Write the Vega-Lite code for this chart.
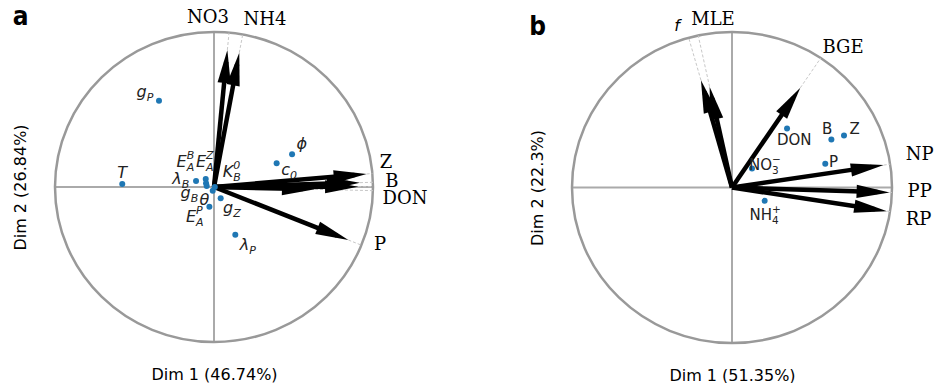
{
  "$schema": "https://vega.github.io/schema/vega-lite/v6.json",
  "background": "white",
  "padding": {"left": 12, "top": 4, "right": 0, "bottom": 0},
  "config": {
    "view": {"stroke": null},
    "axis": {"domain": false, "ticks": false, "labels": false, "grid": false, "titleFont": "DejaVu Sans", "titleFontSize": 16, "titleFontWeight": "normal", "titleColor": "#000"},
    "axisX": {"titlePadding": 24},
    "axisY": {"titlePadding": 27}
  },
  "datasets": {
    "arrows": [
      {"panel": "a", "name": "NO3", "x": 0.084, "y": 0.884, "lx": -0.038, "ly": 1.09},
      {"panel": "a", "name": "NH4", "x": 0.159, "y": 0.866, "lx": 0.321, "ly": 1.077},
      {"panel": "a", "name": "Z", "x": 0.96, "y": 0.084, "lx": 1.082, "ly": 0.155},
      {"panel": "a", "name": "B", "x": 0.918, "y": 0.028, "lx": 1.119, "ly": 0.03},
      {"panel": "a", "name": "DON", "x": 0.906, "y": 0.002, "lx": 1.201, "ly": -0.075},
      {"panel": "a", "name": "", "x": 0.635, "y": -0.015, "lx": null, "ly": null},
      {"panel": "a", "name": "P", "x": 0.845, "y": -0.342, "lx": 1.044, "ly": -0.374},
      {"panel": "b", "name": "f", "x": -0.194, "y": 0.69, "lx": -0.344, "ly": 1.04},
      {"panel": "b", "name": "MLE", "x": -0.14, "y": 0.648, "lx": -0.119, "ly": 1.077},
      {"panel": "b", "name": "BGE", "x": 0.427, "y": 0.641, "lx": 0.694, "ly": 0.894},
      {"panel": "b", "name": "NP", "x": 0.948, "y": 0.144, "lx": 1.173, "ly": 0.208},
      {"panel": "b", "name": "PP", "x": 0.985, "y": -0.032, "lx": 1.173, "ly": -0.032},
      {"panel": "b", "name": "RP", "x": 0.969, "y": -0.152, "lx": 1.166, "ly": -0.21}
    ],
    "points": [
      {"panel": "a", "base": "g", "sub": "P", "sup": "", "x": -0.346, "y": 0.557, "lx": -0.423, "ly": 0.615},
      {"panel": "a", "base": "T", "sub": "", "sup": "", "x": -0.577, "y": 0.019, "lx": -0.577, "ly": 0.088},
      {"panel": "a", "base": "ϕ", "sub": "", "sup": "", "x": 0.491, "y": 0.211, "lx": 0.552, "ly": 0.277},
      {"panel": "a", "base": "c", "sub": "0", "sup": "", "x": 0.394, "y": 0.153, "lx": 0.478, "ly": 0.11},
      {"panel": "a", "base": "λ", "sub": "B", "sup": "", "x": -0.113, "y": 0.039, "lx": -0.203, "ly": 0.052},
      {"panel": "a", "base": "E", "sub": "A", "sup": "B", "x": -0.052, "y": 0.052, "lx": -0.172, "ly": 0.163},
      {"panel": "a", "base": "E", "sub": "A", "sup": "Z", "x": -0.05, "y": 0.024, "lx": -0.05, "ly": 0.163},
      {"panel": "a", "base": "g", "sub": "B", "sup": "", "x": -0.046, "y": 0.006, "lx": -0.147, "ly": -0.041},
      {"panel": "a", "base": "θ", "sub": "", "sup": "", "x": -0.008, "y": -0.024, "lx": -0.061, "ly": -0.084},
      {"panel": "a", "base": "K", "sub": "B", "sup": "0", "x": 0.005, "y": 0.0, "lx": 0.121, "ly": 0.099},
      {"panel": "a", "base": "E", "sub": "A", "sup": "P", "x": -0.029, "y": -0.127, "lx": -0.113, "ly": -0.192},
      {"panel": "a", "base": "g", "sub": "Z", "sup": "", "x": 0.042, "y": -0.073, "lx": 0.121, "ly": -0.134},
      {"panel": "a", "base": "λ", "sub": "P", "sup": "", "x": 0.134, "y": -0.308, "lx": 0.222, "ly": -0.374},
      {"panel": "b", "base": "DON", "sub": "", "sup": "", "x": 0.344, "y": 0.379, "lx": 0.389, "ly": 0.305},
      {"panel": "b", "base": "B", "sub": "", "sup": "", "x": 0.621, "y": 0.309, "lx": 0.594, "ly": 0.376},
      {"panel": "b", "base": "Z", "sub": "", "sup": "", "x": 0.70, "y": 0.334, "lx": 0.766, "ly": 0.376},
      {"panel": "b", "base": "P", "sub": "", "sup": "", "x": 0.583, "y": 0.152, "lx": 0.635, "ly": 0.165},
      {"panel": "b", "base": "NO", "sub": "3", "sup": "−", "x": 0.125, "y": 0.122, "lx": 0.25, "ly": 0.145},
      {"panel": "b", "base": "NH", "sub": "4", "sup": "+", "x": 0.204, "y": -0.086, "lx": 0.25, "ly": -0.174}
    ]
  },
  "spacing": 199,
  "bounds": "flush",
  "hconcat": [
    {
      "width": 318,
      "height": 310,
      "layer": [
        {"data": {"values": [{}]}, "mark": {"type": "rule", "color": "#aaaaaa", "strokeWidth": 2},
         "encoding": {"x": {"datum": 0, "type": "quantitative", "scale": {"domain": [-1, 1], "nice": false, "zero": false}, "title": "Dim 1 (46.74%)"},
                      "y": {"datum": -1, "type": "quantitative", "scale": {"domain": [-1, 1], "nice": false, "zero": false}, "title": "Dim 2 (26.84%)"},
                      "y2": {"datum": 1}}},
        {"data": {"values": [{}]}, "mark": {"type": "rule", "color": "#aaaaaa", "strokeWidth": 2},
         "encoding": {"x": {"datum": -1, "type": "quantitative", "scale": {"domain": [-1, 1], "nice": false, "zero": false}, "title": "Dim 1 (46.74%)"},
                      "x2": {"datum": 1},
                      "y": {"datum": 0, "type": "quantitative", "scale": {"domain": [-1, 1], "nice": false, "zero": false}, "title": "Dim 2 (26.84%)"}}},
        {"data": {"values": [{}]}, "mark": {"type": "point", "shape": "M1,0A1,0.975,0,1,1,-1,0A1,0.975,0,1,1,1,0Z", "size": 101124, "filled": false, "stroke": "#999999", "strokeWidth": 2.5, "opacity": 1},
         "encoding": {"x": {"datum": 0, "type": "quantitative", "scale": {"domain": [-1, 1], "nice": false, "zero": false}, "title": "Dim 1 (46.74%)"},
                      "y": {"datum": 0, "type": "quantitative", "scale": {"domain": [-1, 1], "nice": false, "zero": false}, "title": "Dim 2 (26.84%)"}}},
        {"data": {"name": "arrows"},
         "transform": [{"filter": "datum.panel == 'a'"}, {"calculate": "sqrt(datum.x*datum.x+datum.y*datum.y)", "as": "r"}, {"calculate": "datum.x/datum.r", "as": "cx"}, {"calculate": "datum.y/datum.r", "as": "cy"}],
         "mark": {"type": "rule", "color": "#c8c8c8", "strokeWidth": 1, "strokeDash": [3, 2]},
         "encoding": {"x": {"field": "x", "type": "quantitative", "scale": {"domain": [-1, 1], "nice": false, "zero": false}, "title": "Dim 1 (46.74%)"},
                      "y": {"field": "y", "type": "quantitative", "scale": {"domain": [-1, 1], "nice": false, "zero": false}, "title": "Dim 2 (26.84%)"},
                      "x2": {"field": "cx"}, "y2": {"field": "cy"}}},
        {"data": {"name": "arrows"},
         "transform": [{"filter": "datum.panel == 'a'"}, {"calculate": "sqrt(datum.x*datum.x+datum.y*datum.y)", "as": "r"}, {"calculate": "1-12/(datum.r*157)", "as": "f"}, {"calculate": "datum.x*datum.f", "as": "sx"}, {"calculate": "datum.y*datum.f", "as": "sy"}],
         "mark": {"type": "rule", "color": "black", "strokeWidth": 4.5},
         "encoding": {"x": {"field": "sx", "type": "quantitative", "scale": {"domain": [-1, 1], "nice": false, "zero": false}, "title": "Dim 1 (46.74%)"},
                      "y": {"field": "sy", "type": "quantitative", "scale": {"domain": [-1, 1], "nice": false, "zero": false}, "title": "Dim 2 (26.84%)"},
                      "x2": {"datum": 0}, "y2": {"datum": 0}}},
        {"data": {"name": "arrows"},
         "transform": [{"filter": "datum.panel == 'a'"}, {"calculate": "atan2(datum.x*159, datum.y*155)*180/PI", "as": "ang"}],
         "mark": {"type": "point", "shape": "M0,0L0.4,2L-0.4,2Z", "size": 1089, "filled": true, "color": "black", "opacity": 1, "strokeWidth": 0},
         "encoding": {"x": {"field": "x", "type": "quantitative", "scale": {"domain": [-1, 1], "nice": false, "zero": false}, "title": "Dim 1 (46.74%)"},
                      "y": {"field": "y", "type": "quantitative", "scale": {"domain": [-1, 1], "nice": false, "zero": false}, "title": "Dim 2 (26.84%)"},
                      "angle": {"field": "ang", "type": "quantitative", "scale": null}}},
        {"data": {"name": "points"},
         "transform": [{"filter": "datum.panel == 'a'"}],
         "mark": {"type": "circle", "size": 36, "color": "#1f77b4", "opacity": 1},
         "encoding": {"x": {"field": "x", "type": "quantitative", "scale": {"domain": [-1, 1], "nice": false, "zero": false}, "title": "Dim 1 (46.74%)"},
                      "y": {"field": "y", "type": "quantitative", "scale": {"domain": [-1, 1], "nice": false, "zero": false}, "title": "Dim 2 (26.84%)"}}},
        {"data": {"name": "points"},
         "transform": [{"filter": "datum.panel == 'a' && (datum.sub != '' || datum.sup != '')"}],
         "mark": {"type": "text", "align": "right", "baseline": "middle", "font": "DejaVu Sans", "fontSize": 16, "fontStyle": "italic", "color": "#222"},
         "encoding": {"x": {"field": "lx", "type": "quantitative", "scale": {"domain": [-1, 1], "nice": false, "zero": false}, "title": "Dim 1 (46.74%)"},
                      "y": {"field": "ly", "type": "quantitative", "scale": {"domain": [-1, 1], "nice": false, "zero": false}, "title": "Dim 2 (26.84%)"},
                      "text": {"field": "base", "type": "nominal"}}},
        {"data": {"name": "points"},
         "transform": [{"filter": "datum.panel == 'a' && datum.sub != ''"}],
         "mark": {"type": "text", "align": "left", "baseline": "middle", "dy": 6, "font": "DejaVu Sans", "fontSize": 11, "fontStyle": "italic", "color": "#222"},
         "encoding": {"x": {"field": "lx", "type": "quantitative", "scale": {"domain": [-1, 1], "nice": false, "zero": false}, "title": "Dim 1 (46.74%)"},
                      "y": {"field": "ly", "type": "quantitative", "scale": {"domain": [-1, 1], "nice": false, "zero": false}, "title": "Dim 2 (26.84%)"},
                      "text": {"field": "sub", "type": "nominal"}}},
        {"data": {"name": "points"},
         "transform": [{"filter": "datum.panel == 'a' && datum.sup != ''"}],
         "mark": {"type": "text", "align": "left", "baseline": "middle", "dy": -6, "font": "DejaVu Sans", "fontSize": 11, "fontStyle": "italic", "color": "#222"},
         "encoding": {"x": {"field": "lx", "type": "quantitative", "scale": {"domain": [-1, 1], "nice": false, "zero": false}, "title": "Dim 1 (46.74%)"},
                      "y": {"field": "ly", "type": "quantitative", "scale": {"domain": [-1, 1], "nice": false, "zero": false}, "title": "Dim 2 (26.84%)"},
                      "text": {"field": "sup", "type": "nominal"}}},
        {"data": {"name": "points"},
         "transform": [{"filter": "datum.panel == 'a' && datum.sub == '' && datum.sup == ''"}],
         "mark": {"type": "text", "align": "center", "baseline": "middle", "font": "DejaVu Sans", "fontSize": 16, "fontStyle": "italic", "color": "#222"},
         "encoding": {"x": {"field": "lx", "type": "quantitative", "scale": {"domain": [-1, 1], "nice": false, "zero": false}, "title": "Dim 1 (46.74%)"},
                      "y": {"field": "ly", "type": "quantitative", "scale": {"domain": [-1, 1], "nice": false, "zero": false}, "title": "Dim 2 (26.84%)"},
                      "text": {"field": "base", "type": "nominal"}}},
        {"data": {"name": "arrows"},
         "transform": [{"filter": "datum.panel == 'a' && datum.name != '' && datum.name != 'f'"}],
         "mark": {"type": "text", "align": "center", "baseline": "middle", "font": "DejaVu Serif", "fontSize": 18, "color": "black"},
         "encoding": {"x": {"field": "lx", "type": "quantitative", "scale": {"domain": [-1, 1], "nice": false, "zero": false}, "title": "Dim 1 (46.74%)"},
                      "y": {"field": "ly", "type": "quantitative", "scale": {"domain": [-1, 1], "nice": false, "zero": false}, "title": "Dim 2 (26.84%)"},
                      "text": {"field": "name", "type": "nominal"}}},
        {"data": {"values": [{"t": "a", "x": -1.266, "y": 1.045}]},
         "mark": {"type": "text", "align": "left", "baseline": "alphabetic", "font": "DejaVu Sans Condensed", "fontWeight": "bold", "fontSize": 26, "color": "black"},
         "encoding": {"x": {"field": "x", "type": "quantitative", "scale": {"domain": [-1, 1], "nice": false, "zero": false}, "title": "Dim 1 (46.74%)"},
                      "y": {"field": "y", "type": "quantitative", "scale": {"domain": [-1, 1], "nice": false, "zero": false}, "title": "Dim 2 (26.84%)"},
                      "text": {"field": "t", "type": "nominal"}}}
      ]
    },
    {
      "width": 320,
      "height": 311,
      "layer": [
        {"data": {"values": [{}]}, "mark": {"type": "rule", "color": "#aaaaaa", "strokeWidth": 2},
         "encoding": {"x": {"datum": 0, "type": "quantitative", "scale": {"domain": [-1, 1], "nice": false, "zero": false}, "title": "Dim 1 (51.35%)"},
                      "y": {"datum": -1, "type": "quantitative", "scale": {"domain": [-1, 1], "nice": false, "zero": false}, "title": "Dim 2 (22.3%)"},
                      "y2": {"datum": 1}}},
        {"data": {"values": [{}]}, "mark": {"type": "rule", "color": "#aaaaaa", "strokeWidth": 2},
         "encoding": {"x": {"datum": -1, "type": "quantitative", "scale": {"domain": [-1, 1], "nice": false, "zero": false}, "title": "Dim 1 (51.35%)"},
                      "x2": {"datum": 1},
                      "y": {"datum": 0, "type": "quantitative", "scale": {"domain": [-1, 1], "nice": false, "zero": false}, "title": "Dim 2 (22.3%)"}}},
        {"data": {"values": [{}]}, "mark": {"type": "point", "shape": "M1,0A1,0.972,0,1,1,-1,0A1,0.972,0,1,1,1,0Z", "size": 102400, "filled": false, "stroke": "#999999", "strokeWidth": 2.5, "opacity": 1},
         "encoding": {"x": {"datum": 0, "type": "quantitative", "scale": {"domain": [-1, 1], "nice": false, "zero": false}, "title": "Dim 1 (51.35%)"},
                      "y": {"datum": 0, "type": "quantitative", "scale": {"domain": [-1, 1], "nice": false, "zero": false}, "title": "Dim 2 (22.3%)"}}},
        {"data": {"name": "arrows"},
         "transform": [{"filter": "datum.panel == 'b'"}, {"calculate": "sqrt(datum.x*datum.x+datum.y*datum.y)", "as": "r"}, {"calculate": "datum.x/datum.r", "as": "cx"}, {"calculate": "datum.y/datum.r", "as": "cy"}],
         "mark": {"type": "rule", "color": "#c8c8c8", "strokeWidth": 1, "strokeDash": [3, 2]},
         "encoding": {"x": {"field": "x", "type": "quantitative", "scale": {"domain": [-1, 1], "nice": false, "zero": false}, "title": "Dim 1 (51.35%)"},
                      "y": {"field": "y", "type": "quantitative", "scale": {"domain": [-1, 1], "nice": false, "zero": false}, "title": "Dim 2 (22.3%)"},
                      "x2": {"field": "cx"}, "y2": {"field": "cy"}}},
        {"data": {"name": "arrows"},
         "transform": [{"filter": "datum.panel == 'b'"}, {"calculate": "sqrt(datum.x*datum.x+datum.y*datum.y)", "as": "r"}, {"calculate": "1-12/(datum.r*157)", "as": "f"}, {"calculate": "datum.x*datum.f", "as": "sx"}, {"calculate": "datum.y*datum.f", "as": "sy"}],
         "mark": {"type": "rule", "color": "black", "strokeWidth": 4.5},
         "encoding": {"x": {"field": "sx", "type": "quantitative", "scale": {"domain": [-1, 1], "nice": false, "zero": false}, "title": "Dim 1 (51.35%)"},
                      "y": {"field": "sy", "type": "quantitative", "scale": {"domain": [-1, 1], "nice": false, "zero": false}, "title": "Dim 2 (22.3%)"},
                      "x2": {"datum": 0}, "y2": {"datum": 0}}},
        {"data": {"name": "arrows"},
         "transform": [{"filter": "datum.panel == 'b'"}, {"calculate": "atan2(datum.x*160, datum.y*155.5)*180/PI", "as": "ang"}],
         "mark": {"type": "point", "shape": "M0,0L0.4,2L-0.4,2Z", "size": 1089, "filled": true, "color": "black", "opacity": 1, "strokeWidth": 0},
         "encoding": {"x": {"field": "x", "type": "quantitative", "scale": {"domain": [-1, 1], "nice": false, "zero": false}, "title": "Dim 1 (51.35%)"},
                      "y": {"field": "y", "type": "quantitative", "scale": {"domain": [-1, 1], "nice": false, "zero": false}, "title": "Dim 2 (22.3%)"},
                      "angle": {"field": "ang", "type": "quantitative", "scale": null}}},
        {"data": {"name": "points"},
         "transform": [{"filter": "datum.panel == 'b'"}],
         "mark": {"type": "circle", "size": 36, "color": "#1f77b4", "opacity": 1},
         "encoding": {"x": {"field": "x", "type": "quantitative", "scale": {"domain": [-1, 1], "nice": false, "zero": false}, "title": "Dim 1 (51.35%)"},
                      "y": {"field": "y", "type": "quantitative", "scale": {"domain": [-1, 1], "nice": false, "zero": false}, "title": "Dim 2 (22.3%)"}}},
        {"data": {"name": "points"},
         "transform": [{"filter": "datum.panel == 'b' && (datum.sub != '' || datum.sup != '')"}],
         "mark": {"type": "text", "align": "right", "baseline": "middle", "font": "DejaVu Sans", "fontSize": 15, "color": "#222"},
         "encoding": {"x": {"field": "lx", "type": "quantitative", "scale": {"domain": [-1, 1], "nice": false, "zero": false}, "title": "Dim 1 (51.35%)"},
                      "y": {"field": "ly", "type": "quantitative", "scale": {"domain": [-1, 1], "nice": false, "zero": false}, "title": "Dim 2 (22.3%)"},
                      "text": {"field": "base", "type": "nominal"}}},
        {"data": {"name": "points"},
         "transform": [{"filter": "datum.panel == 'b' && datum.sub != ''"}],
         "mark": {"type": "text", "align": "left", "baseline": "middle", "dy": 6, "font": "DejaVu Sans", "fontSize": 10.5, "color": "#222"},
         "encoding": {"x": {"field": "lx", "type": "quantitative", "scale": {"domain": [-1, 1], "nice": false, "zero": false}, "title": "Dim 1 (51.35%)"},
                      "y": {"field": "ly", "type": "quantitative", "scale": {"domain": [-1, 1], "nice": false, "zero": false}, "title": "Dim 2 (22.3%)"},
                      "text": {"field": "sub", "type": "nominal"}}},
        {"data": {"name": "points"},
         "transform": [{"filter": "datum.panel == 'b' && datum.sup != ''"}],
         "mark": {"type": "text", "align": "left", "baseline": "middle", "dy": -5, "font": "DejaVu Sans", "fontSize": 10.5, "color": "#222"},
         "encoding": {"x": {"field": "lx", "type": "quantitative", "scale": {"domain": [-1, 1], "nice": false, "zero": false}, "title": "Dim 1 (51.35%)"},
                      "y": {"field": "ly", "type": "quantitative", "scale": {"domain": [-1, 1], "nice": false, "zero": false}, "title": "Dim 2 (22.3%)"},
                      "text": {"field": "sup", "type": "nominal"}}},
        {"data": {"name": "points"},
         "transform": [{"filter": "datum.panel == 'b' && datum.sub == '' && datum.sup == ''"}],
         "mark": {"type": "text", "align": "center", "baseline": "middle", "font": "DejaVu Sans", "fontSize": 15, "color": "#222"},
         "encoding": {"x": {"field": "lx", "type": "quantitative", "scale": {"domain": [-1, 1], "nice": false, "zero": false}, "title": "Dim 1 (51.35%)"},
                      "y": {"field": "ly", "type": "quantitative", "scale": {"domain": [-1, 1], "nice": false, "zero": false}, "title": "Dim 2 (22.3%)"},
                      "text": {"field": "base", "type": "nominal"}}},
        {"data": {"name": "arrows"},
         "transform": [{"filter": "datum.panel == 'b' && datum.name != '' && datum.name != 'f'"}],
         "mark": {"type": "text", "align": "center", "baseline": "middle", "font": "DejaVu Serif", "fontSize": 18, "color": "black"},
         "encoding": {"x": {"field": "lx", "type": "quantitative", "scale": {"domain": [-1, 1], "nice": false, "zero": false}, "title": "Dim 1 (51.35%)"},
                      "y": {"field": "ly", "type": "quantitative", "scale": {"domain": [-1, 1], "nice": false, "zero": false}, "title": "Dim 2 (22.3%)"},
                      "text": {"field": "name", "type": "nominal"}}},
        {"data": {"name": "arrows"},
         "transform": [{"filter": "datum.panel == 'b' && datum.name == 'f'"}],
         "mark": {"type": "text", "align": "center", "baseline": "middle", "font": "DejaVu Sans", "fontStyle": "italic", "fontSize": 16, "color": "black"},
         "encoding": {"x": {"field": "lx", "type": "quantitative", "scale": {"domain": [-1, 1], "nice": false, "zero": false}, "title": "Dim 1 (51.35%)"},
                      "y": {"field": "ly", "type": "quantitative", "scale": {"domain": [-1, 1], "nice": false, "zero": false}, "title": "Dim 2 (22.3%)"},
                      "text": {"field": "name", "type": "nominal"}}},
        {"data": {"values": [{"t": "b", "x": -1.267, "y": 0.982}]},
         "mark": {"type": "text", "align": "left", "baseline": "alphabetic", "font": "DejaVu Sans Condensed", "fontWeight": "bold", "fontSize": 26, "color": "black"},
         "encoding": {"x": {"field": "x", "type": "quantitative", "scale": {"domain": [-1, 1], "nice": false, "zero": false}, "title": "Dim 1 (51.35%)"},
                      "y": {"field": "y", "type": "quantitative", "scale": {"domain": [-1, 1], "nice": false, "zero": false}, "title": "Dim 2 (22.3%)"},
                      "text": {"field": "t", "type": "nominal"}}}
      ]
    }
  ]
}
